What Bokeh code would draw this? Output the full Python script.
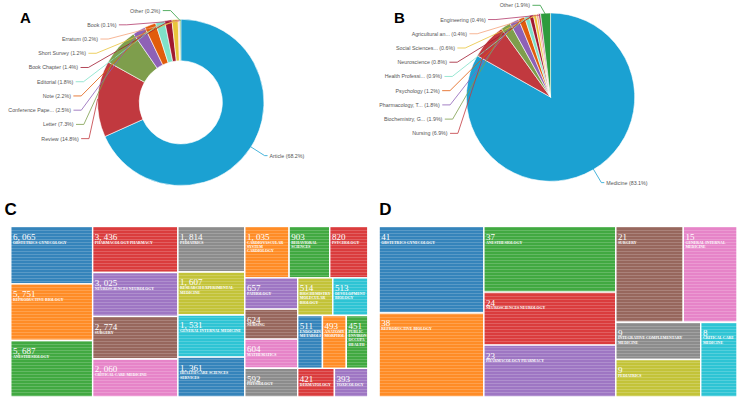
import math
from bokeh.plotting import figure
from bokeh.models import Range1d, ColumnDataSource
from bokeh.embed import file_html
from bokeh.resources import INLINE
from bokeh.core.properties import value

# ---------------- data ----------------
# Panel A: documents by type (%)
doc_types = ["Article", "Review", "Letter", "Conference Pape...", "Note", "Editorial",
             "Book Chapter", "Short Survey", "Erratum", "Book", "Other"]
doc_share = [68.2, 14.8, 7.3, 2.5, 2.2, 1.8, 1.4, 1.2, 0.2, 0.1, 0.2]

# Panel B: documents by subject area (%)
subject_areas = ["Medicine", "Nursing", "Biochemistry, G...", "Pharmacology, T...", "Psychology",
                 "Health Professi...", "Neuroscience", "Social Sciences...", "Agricultural an...",
                 "Engineering", "Other"]
subject_share = [83.1, 6.9, 1.9, 1.8, 1.2, 0.9, 0.8, 0.6, 0.4, 0.4, 1.9]

# Panel C: research areas (records)
c_categories = ["OBSTETRICS GYNECOLOGY", "REPRODUCTIVE BIOLOGY", "ANESTHESIOLOGY",
                "PHARMACOLOGY PHARMACY", "NEUROSCIENCES NEUROLOGY", "SURGERY",
                "CRITICAL CARE MEDICINE", "PEDIATRICS", "RESEARCH EXPERIMENTAL MEDICINE",
                "GENERAL INTERNAL MEDICINE", "HEALTH CARE SCIENCES SERVICES",
                "CARDIOVASCULAR SYSTEM CARDIOLOGY", "BEHAVIORAL SCIENCES", "PSYCHOLOGY",
                "PATHOLOGY", "NURSING", "MATHEMATICS", "PHYSIOLOGY",
                "BIOCHEMISTRY MOLECULAR BIOLOGY", "DEVELOPMENTAL BIOLOGY",
                "ENDOCRINOLOGY METABOLISM", "ANATOMY MORPHOLOGY",
                "PUBLIC ENVIRONMENTAL OCCUPATIONAL HEALTH", "DERMATOLOGY", "TOXICOLOGY"]
c_records = [6065, 5751, 5687, 3436, 3025, 2774, 2060, 1814, 1607, 1531, 1361, 1035, 903,
             820, 657, 624, 604, 592, 514, 513, 511, 493, 451, 421, 393]
# nesting of the treemap strips (alternating horizontal / vertical splits)
c_tree = [[0, 1, 2], [3, 4, 5, 6], [7, 8, 9, 10],
          [[11, 12, 13], [[14, 15, 16, 17], [[18, 19], [20, 21, 22], [23, 24]]]]]

# Panel D: research areas (records)
d_categories = ["OBSTETRICS GYNECOLOGY", "REPRODUCTIVE BIOLOGY", "ANESTHESIOLOGY",
                "NEUROSCIENCES NEUROLOGY", "PHARMACOLOGY PHARMACY", "SURGERY",
                "GENERAL INTERNAL MEDICINE", "INTEGRATIVE COMPLEMENTARY MEDICINE",
                "PEDIATRICS", "CRITICAL CARE MEDICINE"]
d_records = [41, 38, 37, 24, 23, 21, 15, 9, 9, 8]
d_tree = [[0, 1], [2, 3, 4], [[5, 6], [[7, 8], 9]]]

panel_letters = ["A", "B", "C", "D"]

# ---------------- styles ----------------
pie_palette = ["#1ba1d2", "#c1393f", "#7e9e4c", "#8e61b6", "#e15c0c", "#7fe1c8",
               "#a0192f", "#e9c43b", "#f5a37b", "#b23b6b", "#2d9b3d"]
tree_palette = ["#1f77b4", "#ff7f0e", "#2ca02c", "#d62728", "#9467bd",
                "#8c564b", "#e377c2", "#7f7f7f", "#bcbd22", "#17becf"]

W, H = 753, 413


def Y(y):
    return H - y


p = figure(width=737, height=397, x_range=Range1d(0, W), y_range=Range1d(0, H),
           output_backend="svg", toolbar_location=None, min_border=0)
p.xaxis.visible = False
p.yaxis.visible = False
p.grid.visible = False
p.outline_line_color = None


# ---------------- pies ----------------
def draw_pie(names, shares, cx, cy, r_out, r_in):
    n = len(shares)
    tot = float(sum(shares))
    a = 0.0
    starts, ends, mids = [], [], []
    for s in shares:
        starts.append(a)
        a += s / tot * 360.0
        ends.append(a)
        mids.append((starts[-1] + ends[-1]) / 2.0)
    src = ColumnDataSource(dict(
        start=[math.radians(90 - e) for e in ends],
        end=[math.radians(90 - s) for s in starts],
        color=pie_palette[:n]))
    p.annular_wedge(x=cx, y=Y(cy), inner_radius=r_in, outer_radius=r_out,
                    start_angle="start", end_angle="end", fill_color="color",
                    line_color="white", line_width=0.6, source=src)

    xs, ys, lc = [], [], []
    tx, ty, tt, ta = [], [], [], []
    left = sorted([i for i in range(n) if mids[i] > 180], key=lambda i: -mids[i])
    right = [i for i in range(n) if mids[i] <= 180]
    rA = r_out + 17
    rB = 96.0
    top = cy - 95.5
    step = 14.8
    prev = None
    for i in left:
        th = math.radians(mids[i])
        y0 = cy - rA * math.cos(th)
        y = max(y0, top) if prev is None else max(y0, prev + step)
        prev = y
        dy = y - cy
        dx = rA * math.sqrt(max(0.0, 1 - (dy / rB) ** 2))
        bx = cx - dx
        ex = bx - 8
        xs.append([cx + r_out * math.sin(th), bx, ex])
        ys.append([Y(cy - r_out * math.cos(th)), Y(y), Y(y)])
        lc.append(pie_palette[i])
        tx.append(ex - 2.5)
        ty.append(Y(y))
        tt.append("%s (%.1f%%)" % (names[i], shares[i]))
        ta.append("right")
    for i in right:
        th = math.radians(mids[i])
        px0, py0 = cx + r_out * math.sin(th), cy - r_out * math.cos(th)
        px1, py1 = cx + (r_out + 17) * math.sin(th), cy - (r_out + 17) * math.cos(th)
        xs.append([px0, px1, px1 + 3])
        ys.append([Y(py0), Y(py1), Y(py1)])
        lc.append(pie_palette[i])
        tx.append(px1 + 5)
        ty.append(Y(py1))
        tt.append("%s (%.1f%%)" % (names[i], shares[i]))
        ta.append("left")
    p.multi_line(xs=xs, ys=ys, line_color=lc, line_width=0.8)
    p.text(x=tx, y=ty, text=tt, text_align=ta, text_baseline="middle",
           text_font=value("Liberation Sans"), text_font_size="5.3px", text_color="#555555")


draw_pie(doc_types, doc_share, 184.2, 106.0, 85.0, 42.5)
draw_pie(subject_areas, subject_share, 562.0, 100.5, 86.0, 0.0)

# ---------------- treemaps ----------------
TB = {"A": 722, "B": 667, "C": 722, "D": 722, "E": 667, "F": 611, "G": 778, "H": 778,
      "I": 389, "J": 500, "K": 778, "L": 667, "M": 944, "N": 722, "O": 778, "P": 611,
      "Q": 778, "R": 722, "S": 556, "T": 667, "U": 722, "V": 722, "W": 1000, "X": 722,
      "Y": 722, "Z": 667, " ": 250}
NAME_FS = 3.85
VAL_FS = 9.0


def text_w(s, fs):
    return sum(TB.get(ch, 600) for ch in s) / 1000.0 * fs


def wrap(name, avail, fs):
    lines, cur = [], ""
    for w in name.split():
        cand = w if not cur else cur + " " + w
        if text_w(cand, fs) <= avail:
            cur = cand
        else:
            if cur:
                lines.append(cur)
            cur = w
    if cur:
        lines.append(cur)
    out = []
    for ln in lines:
        while text_w(ln, fs) > avail and len(ln) > 1:
            ln = ln[:-1]
        out.append(ln)
    return out


def layout(node, wts, x0, y0, x1, y1, horizontal, out):
    """slice-and-dice over the strip nesting, sizes from log-scaled record counts"""
    def wsum(nd):
        return wts[nd] if isinstance(nd, int) else sum(wsum(c) for c in nd)
    if isinstance(node, int):
        out[node] = (x0, y0, x1, y1)
        return
    tot = wsum(node)
    pos = x0 if horizontal else y0
    for ch in node:
        f = wsum(ch) / tot
        if horizontal:
            w = (x1 - x0) * f
            layout(ch, wts, pos, y0, pos + w, y1, False, out)
            pos += w
        else:
            h = (y1 - y0) * f
            layout(ch, wts, x0, pos, x1, pos + h, True, out)
            pos += h


def draw_treemap(names, vals, tree, box):
    vmin = float(min(vals))
    wts = [math.log(2.0 * v / vmin) for v in vals]
    rects = {}
    layout(tree, wts, box[0], box[1], box[2], box[3], True, rects)
    n = len(vals)
    L = [rects[i][0] for i in range(n)]
    R = [rects[i][2] for i in range(n)]
    T = [Y(rects[i][1]) for i in range(n)]
    B = [Y(rects[i][3]) for i in range(n)]
    cols = [tree_palette[i % 10] for i in range(n)]
    p.quad(left=L, right=R, top=T, bottom=B, fill_color=cols, fill_alpha=0.9,
           line_color="white", line_width=1.4,
           hatch_pattern="horizontal_line", hatch_scale=3, hatch_weight=1,
           hatch_color="white", hatch_alpha=0.18)
    vx, vy, vt = [], [], []
    nx, ny, nt = [], [], []
    for i in range(n):
        x0, y0, x1, y1 = rects[i]
        vx.append(x0 + 2.2)
        vy.append(Y(y0 + 10.8))
        vt.append("{:,}".format(vals[i]).replace(",", ", "))
        for k, ln in enumerate(wrap(names[i], x1 - x0 - 3.5, NAME_FS)):
            nx.append(x0 + 2.2)
            ny.append(Y(y0 + 16.8 + k * 4.6))
            nt.append(ln)
    p.text(x=vx, y=vy, text=vt, text_baseline="alphabetic", text_align="left",
           text_font=value("Liberation Serif"), text_font_size="%gpx" % VAL_FS,
           text_color="white")
    p.text(x=nx, y=ny, text=nt, text_baseline="alphabetic", text_align="left",
           text_font=value("Liberation Serif"), text_font_size="%gpx" % NAME_FS,
           text_font_style="bold", text_color="white")


draw_treemap(c_categories, c_records, c_tree, (10.5, 235.0, 375.3, 412.3))
draw_treemap(d_categories, d_records, d_tree, (386.8, 235.0, 752.5, 412.3))

# ---------------- panel letters ----------------
p.text(x=[20, 402], y=[Y(17.2), Y(17.2)], text=panel_letters[:2],
       text_baseline="alphabetic", text_align="left",
       text_font=value("Liberation Sans"), text_font_size="15px", text_font_style="bold",
       text_color="black")
p.text(x=[4, 387], y=[Y(217.5), Y(217.5)], text=panel_letters[2:],
       text_baseline="alphabetic", text_align="left",
       text_font=value("Liberation Sans"), text_font_size="17px", text_font_style="bold",
       text_color="black")

open("out.html", "w").write(file_html(p, INLINE))
